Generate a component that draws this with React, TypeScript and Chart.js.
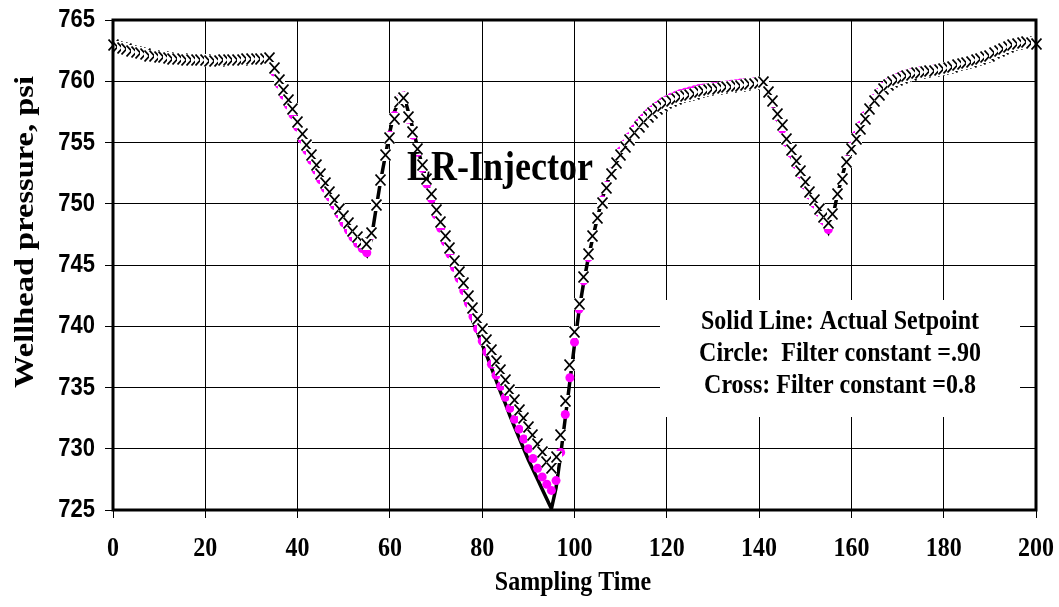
import React, { useEffect, useRef } from 'react';
import { Chart, registerables } from 'chart.js';

Chart.register(...registerables);

// Sampling time index (categories)
const SAMPLING_TIME: number[] = Array.from({ length: 201 }, (_, i) => i);
const X_TICKS = [0, 20, 40, 60, 80, 100, 120, 140, 160, 180, 200];
const Y_TICKS = [725, 730, 735, 740, 745, 750, 755, 760, 765];

// Solid line: actual setpoint
const SETPOINT = [
  762.95, 762.8, 762.7, 762.6, 762.5, 762.4, 762.3, 762.2, 762.1, 762.05,
  762.0, 761.95, 761.9, 761.85, 761.8, 761.8, 761.75, 761.75, 761.7, 761.7,
  761.7, 761.65, 761.65, 761.65, 761.7, 761.7, 761.75, 761.75, 761.75, 761.8,
  761.8, 761.8, 761.8, 761.85, 761.9, 760.8, 759.8, 758.9, 758.1, 757.2,
  756.2, 755.2, 754.3, 753.5, 752.7, 751.9, 751.1, 750.4, 749.7, 749.0,
  748.3, 747.7, 747.1, 746.6, 746.2, 745.8, 747.2, 749.6, 751.9, 753.9,
  755.9, 757.5, 758.5, 758.9, 757.5, 756.1, 754.6, 753.1, 751.8, 750.5,
  749.2, 748.1, 747.0, 745.9, 744.8, 743.8, 742.8, 741.6, 740.4, 739.5,
  738.5, 737.6, 736.6, 735.6, 734.6, 733.7, 732.7, 731.8, 730.9, 730.0,
  729.1, 728.3, 727.5, 726.7, 725.9, 725.1, 726.8, 729.5, 732.5, 735.5,
  738.5, 741.3, 743.6, 745.6, 747.3, 748.9, 750.4, 751.6, 752.7, 753.6,
  754.4, 755.0, 755.6, 756.2, 756.7, 757.1, 757.5, 757.8, 758.1, 758.4,
  758.6, 758.8, 758.95, 759.1, 759.2, 759.3, 759.4, 759.5, 759.55, 759.6,
  759.65, 759.7, 759.75, 759.8, 759.85, 759.9, 759.9, 759.95, 759.95, 760.0,
  760.05, 760.1, 758.9, 758.0, 756.9, 755.9, 754.8, 753.9, 753.0, 752.2,
  751.3, 750.5, 749.8, 749.1, 748.4, 747.7, 749.0, 750.8, 752.2, 753.7,
  754.8, 755.7, 756.5, 757.3, 758.0, 758.7, 759.2, 759.7, 760.0, 760.2,
  760.4, 760.55, 760.65, 760.75, 760.85, 760.9, 760.95, 761.0, 761.05, 761.1,
  761.15, 761.25, 761.35, 761.45, 761.55, 761.65, 761.75, 761.85, 761.95, 762.1,
  762.25, 762.45, 762.65, 762.8, 762.95, 763.1, 763.2, 763.25, 763.35, 763.3,
  763.2,
];

// Circles: filter constant = .90
const FILTER_090 = [
  762.95, 762.8, 762.7, 762.6, 762.5, 762.4, 762.3, 762.2, 762.1, 762.05,
  762.0, 761.95, 761.9, 761.85, 761.8, 761.8, 761.75, 761.75, 761.7, 761.7,
  761.7, 761.65, 761.65, 761.65, 761.7, 761.7, 761.75, 761.75, 761.75, 761.8,
  761.8, 761.8, 761.8, 761.85, 761.9, 760.75, 759.75, 758.85, 758.05, 757.25,
  756.25, 755.25, 754.35, 753.55, 752.75, 751.95, 751.25, 750.55, 749.85, 749.15,
  748.45, 747.85, 747.25, 746.75, 746.35, 746.0, 747.4, 749.8, 751.9, 754.0,
  755.6, 757.2, 758.5, 758.8, 756.9, 755.6, 754.2, 752.9, 751.6, 750.4,
  749.1, 748.0, 746.9, 745.9, 744.8, 743.9, 742.9, 741.9, 740.8, 739.8,
  738.8, 737.9, 736.9, 736.0, 735.1, 734.2, 733.3, 732.4, 731.6, 730.8,
  730.0, 729.2, 728.4, 727.7, 727.1, 726.6, 727.4, 729.7, 732.8, 735.8,
  738.7, 741.4, 743.7, 745.6, 747.3, 748.9, 750.3, 751.5, 752.6, 753.5,
  754.3, 754.9, 755.5, 756.1, 756.6, 757.0, 757.4, 757.7, 758.0, 758.3,
  758.5, 758.7, 758.85, 759.0, 759.1, 759.2, 759.3, 759.4, 759.45, 759.5,
  759.55, 759.6, 759.65, 759.7, 759.75, 759.8, 759.85, 759.9, 759.9, 759.95,
  760.0, 760.0, 759.0, 758.2, 757.1, 756.1, 755.0, 754.1, 753.2, 752.4,
  751.5, 750.7, 750.0, 749.3, 748.6, 747.9, 749.0, 750.8, 752.1, 753.6,
  754.7, 755.6, 756.4, 757.2, 757.9, 758.6, 759.1, 759.6, 759.9, 760.1,
  760.3, 760.5, 760.6, 760.7, 760.8, 760.85, 760.9, 760.95, 761.0, 761.05,
  761.1, 761.2, 761.3, 761.4, 761.5, 761.6, 761.7, 761.8, 761.9, 762.05,
  762.2, 762.4, 762.6, 762.75, 762.9, 763.05, 763.15, 763.2, 763.3, 763.25,
  763.15,
];

// Crosses: filter constant = 0.8
const FILTER_080 = [
  762.95, 762.8, 762.7, 762.6, 762.5, 762.4, 762.3, 762.2, 762.1, 762.05,
  762.0, 761.95, 761.9, 761.85, 761.8, 761.8, 761.75, 761.75, 761.7, 761.7,
  761.7, 761.65, 761.65, 761.65, 761.7, 761.7, 761.75, 761.75, 761.75, 761.8,
  761.8, 761.8, 761.8, 761.85, 761.9, 761.1, 760.1, 759.25, 758.5, 757.7,
  756.7, 755.7, 754.8, 754.0, 753.2, 752.45, 751.7, 751.0, 750.3, 749.6,
  749.0, 748.4, 747.8, 747.3, 746.9, 746.7, 747.6, 749.9, 751.9, 753.95,
  755.4, 756.9, 758.3, 758.6, 757.1, 755.85, 754.5, 753.2, 752.0, 750.8,
  749.5, 748.5, 747.4, 746.4, 745.3, 744.4, 743.5, 742.5, 741.5, 740.6,
  739.8, 738.9, 738.1, 737.2, 736.4, 735.6, 734.8, 734.0, 733.2, 732.5,
  731.8, 731.1, 730.4, 729.7, 728.9, 728.4, 729.3, 731.1, 733.9, 736.8,
  739.5, 741.8, 744.0, 745.9, 747.4, 748.8, 750.1, 751.3, 752.4, 753.3,
  754.0, 754.6, 755.2, 755.8, 756.3, 756.7, 757.1, 757.4, 757.7, 758.0,
  758.2, 758.4, 758.55, 758.7, 758.8, 758.9, 759.0, 759.1, 759.2, 759.3,
  759.35, 759.4, 759.45, 759.5, 759.55, 759.6, 759.65, 759.7, 759.75, 759.8,
  759.85, 759.9, 759.1, 758.4, 757.35, 756.4, 755.3, 754.35, 753.5, 752.7,
  751.8, 750.95, 750.3, 749.6, 748.9, 748.4, 749.2, 750.8, 752.0, 753.4,
  754.5, 755.3, 756.1, 756.9, 757.7, 758.4, 758.9, 759.4, 759.7, 759.9,
  760.1, 760.3, 760.45, 760.55, 760.65, 760.7, 760.75, 760.8, 760.85, 760.9,
  761.0, 761.1, 761.2, 761.3, 761.4, 761.5, 761.6, 761.7, 761.8, 761.95,
  762.1, 762.3, 762.5, 762.65, 762.8, 762.95, 763.05, 763.1, 763.2, 763.15,
  763.05,
];

const X_TITLE = 'Sampling Time';
const Y_TITLE = 'Wellhead pressure, psi';
const CHART_LABEL = 'LR-Injector';
const NOTE_LINES = [
  'Solid Line: Actual Setpoint',
  'Circle:  Filter constant =.90',
  'Cross: Filter constant =0.8',
];

const SERIF = '"Liberation Serif", "Times New Roman", serif';
const SANS = '"Liberation Sans", Arial, sans-serif';
const STRETCH = 1.16;

function drawText(
  ctx: CanvasRenderingContext2D,
  text: string,
  x: number,
  y: number,
  font: string,
  align: CanvasTextAlign,
  baseline: CanvasTextBaseline,
  rotate = 0
) {
  ctx.save();
  ctx.translate(x, y);
  ctx.scale(1, STRETCH);
  if (rotate) ctx.rotate(rotate);
  ctx.font = font;
  ctx.textAlign = align;
  ctx.textBaseline = baseline;
  ctx.fillStyle = '#000';
  ctx.fillText(text, 0, 0);
  ctx.restore();
}

// Cross marker with an opaque white background, like a spreadsheet marker
function makeCrossMarker(): HTMLCanvasElement {
  const c = document.createElement('canvas');
  c.width = 11;
  c.height = 12;
  const g = c.getContext('2d')!;
  g.fillStyle = '#fff';
  g.fillRect(0, 0, 11, 12);
  g.strokeStyle = '#000';
  g.lineWidth = 1.7;
  g.beginPath();
  g.moveTo(0.5, 0.5);
  g.lineTo(10.5, 11.5);
  g.moveTo(10.5, 0.5);
  g.lineTo(0.5, 11.5);
  g.stroke();
  return c;
}

const decorPlugin = {
  id: 'decor',
  beforeDatasetsDraw(chart: any) {
    const ctx = chart.ctx as CanvasRenderingContext2D;
    ctx.save();
    ctx.fillStyle = '#fff';
    ctx.fillRect(660, 300, 360, 117);
    ctx.restore();
    NOTE_LINES.forEach((line, i) => {
      drawText(ctx, line, 840, 329 + i * 32, `bold 24px ${SERIF}`, 'center', 'alphabetic');
    });
    ctx.imageSmoothingEnabled = false;
  },
  afterDatasetsDraw(chart: any) {
    const ctx = chart.ctx as CanvasRenderingContext2D;
    ctx.imageSmoothingEnabled = true;
    const { left, top, right, bottom } = chart.chartArea;
    ctx.save();
    ctx.strokeStyle = '#000';
    ctx.lineWidth = 3;
    ctx.strokeRect(left, top, right - left, bottom - top);
    ctx.restore();
  },
  afterDraw(chart: any) {
    const ctx = chart.ctx as CanvasRenderingContext2D;
    const xs = chart.scales.x;
    const ys = chart.scales.y;
    X_TICKS.forEach((v) => {
      drawText(ctx, String(v), xs.getPixelForValue(v), 549, `bold 24px ${SERIF}`, 'center', 'middle');
    });
    Y_TICKS.forEach((v) => {
      drawText(ctx, String(v), 95, ys.getPixelForValue(v), `bold 22px ${SANS}`, 'right', 'middle');
    });
    drawText(ctx, X_TITLE, 573, 583, `bold 24px ${SERIF}`, 'center', 'middle');
    drawText(ctx, Y_TITLE, 26, 232, `bold 28px ${SERIF}`, 'center', 'middle', -Math.PI / 2);
    drawText(ctx, CHART_LABEL, 500, 180, `bold 36px ${SERIF}`, 'center', 'alphabetic');
  },
};

export default function App() {
  const canvasRef = useRef<HTMLCanvasElement | null>(null);

  useEffect(() => {
    if (!canvasRef.current) return;
    const toXY = (arr: number[]) => SAMPLING_TIME.map((t, i) => ({ x: t, y: arr[i] }));
    const crossMarker = makeCrossMarker();
    const chart = new Chart(canvasRef.current, {
      type: 'line',
      data: {
        datasets: [
          {
            label: 'Cross: Filter constant =0.8',
            data: toXY(FILTER_080),
            showLine: false,
            pointStyle: crossMarker,
            pointRadius: 6,
            borderColor: '#000',
            clip: false,
          } as any,
          {
            label: 'Circle: Filter constant =.90',
            data: toXY(FILTER_090),
            showLine: false,
            pointStyle: 'circle',
            pointRadius: 4.5,
            pointBorderWidth: 0,
            pointBackgroundColor: '#FF00FF',
            pointBorderColor: '#FF00FF',
            borderColor: '#FF00FF',
            clip: false,
          } as any,
          {
            label: 'Solid Line: Actual Setpoint',
            data: toXY(SETPOINT),
            showLine: true,
            borderColor: '#000',
            borderWidth: 3.5,
            pointRadius: 0,
            tension: 0,
            fill: false,
          } as any,
        ],
      },
      options: {
        responsive: false,
        animation: false,
        events: [],
        layout: { padding: { left: 0, top: 20, right: 23, bottom: 0 } },
        plugins: {
          legend: { display: false },
          title: { display: false },
          tooltip: { enabled: false },
        },
        scales: {
          x: {
            type: 'linear',
            min: 0,
            max: 200,
            afterFit: (s: any) => {
              s.height = 97;
            },
            afterBuildTicks: (s: any) => {
              s.ticks = X_TICKS.map((v) => ({ value: v }));
            },
            ticks: { display: false },
            grid: { color: '#000', lineWidth: 1, tickLength: 8, drawTicks: true },
            border: { display: false },
          },
          y: {
            type: 'linear',
            min: 725,
            max: 765,
            afterFit: (s: any) => {
              s.width = 113;
            },
            afterBuildTicks: (s: any) => {
              s.ticks = Y_TICKS.map((v) => ({ value: v }));
            },
            ticks: { display: false },
            grid: { color: '#000', lineWidth: 1, tickLength: 8, drawTicks: true },
            border: { display: false },
          },
        },
      } as any,
      plugins: [decorPlugin],
    });
    return () => chart.destroy();
  }, []);

  return (
    <div style={{ position: 'absolute', left: 0, top: 0, width: 1059, height: 607, background: '#fff' }}>
      <canvas ref={canvasRef} width={1059} height={607} style={{ display: 'block' }} />
    </div>
  );
}
